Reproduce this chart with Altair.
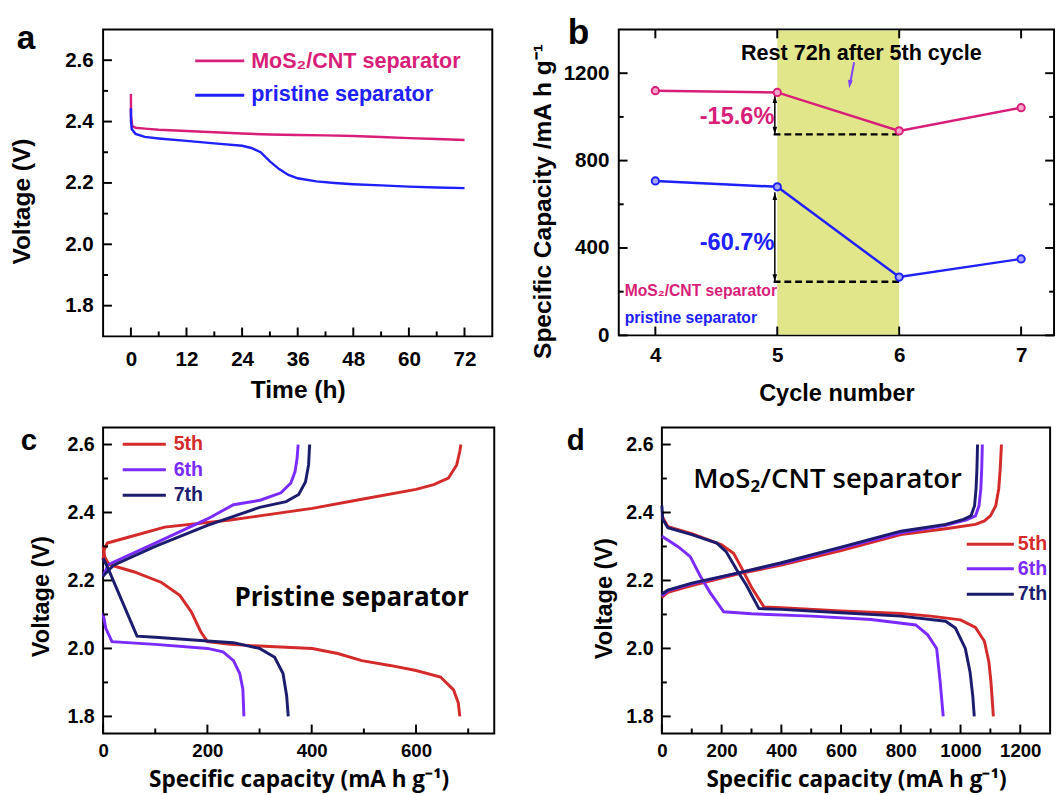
import altair as alt
import pandas as pd

# ---------------- (a) voltage during the 72 h rest ----------------
a_time_mos2 = [0, 0.02, 0.3, 1, 3, 6, 12, 18, 24, 30, 36, 42, 48, 54, 60, 66, 72]
a_volt_mos2 = [2.49, 2.42, 2.385, 2.38, 2.377, 2.373, 2.369, 2.365, 2.361, 2.358, 2.356,
               2.355, 2.353, 2.35, 2.346, 2.343, 2.34]
a_time_pristine = [0, 0.02, 0.2, 1, 3, 6, 12, 18, 24, 26, 28, 30, 32, 34, 36, 40, 44, 48,
                   54, 60, 66, 72]
a_volt_pristine = [2.443, 2.40, 2.375, 2.36, 2.35, 2.345, 2.337, 2.329, 2.321, 2.314, 2.300,
                   2.27, 2.245, 2.226, 2.215, 2.205, 2.2, 2.196, 2.192, 2.188, 2.185, 2.183]
a_xticks = [0, 12, 24, 36, 48, 60, 72]
a_xminor = [6, 18, 30, 42, 54, 66]
v_ticks = [1.8, 2.0, 2.2, 2.4, 2.6]
v_minor = [1.9, 2.1, 2.3, 2.5]
sep_names = ["MoS₂/CNT separator", "pristine separator"]

# ---------------- (b) capacity vs cycle ----------------
b_cycle = [4, 5, 6, 7]
b_cap_mos2 = [1120, 1112, 936, 1042]
b_cap_pristine = [707, 680, 267, 350]
b_rest = [5, 6]
b_drop_top = [1099, 655]
b_drop_bottom = [920, 245]
b_drop_text = ["-15.6%", "-60.7%"]
b_xticks = [4, 5, 6, 7]
b_yticks = [0, 400, 800, 1200]
b_yminor = [200, 600, 1000]

# ---------------- (c) pristine separator profiles ----------------
c5_dis_cap = [0, 3, 11, 60, 112, 147, 169, 187, 200, 244, 300, 401, 450, 496, 550, 600, 647, 672, 681, 684]
c5_dis_v = [2.30, 2.27, 2.247, 2.225, 2.194, 2.156, 2.108, 2.05, 2.02, 2.012, 2.007, 2.0, 1.985,
            1.964, 1.95, 1.935, 1.916, 1.878, 1.84, 1.80]
c5_chg_cap = [0, 2, 8, 50, 118, 244, 300, 401, 496, 600, 634, 662, 678, 684, 686]
c5_chg_v = [2.26, 2.29, 2.31, 2.328, 2.357, 2.378, 2.39, 2.412, 2.439, 2.468, 2.482, 2.501,
            2.54, 2.58, 2.60]
c6_dis_cap = [0, 5, 17, 100, 200, 230, 250, 262, 268, 270]
c6_dis_v = [2.103, 2.06, 2.02, 2.012, 2.0, 1.99, 1.964, 1.926, 1.88, 1.80]
c6_chg_cap = [0, 10, 100, 200, 250, 301, 341, 360, 368, 372, 374]
c6_chg_v = [2.213, 2.247, 2.31, 2.381, 2.423, 2.436, 2.458, 2.487, 2.52, 2.56, 2.60]
c7_dis_cap = [0, 10, 30, 65, 100, 200, 250, 300, 329, 345, 352, 355]
c7_dis_v = [2.266, 2.234, 2.162, 2.036, 2.033, 2.022, 2.017, 2.0, 1.974, 1.926, 1.86, 1.80]
c7_chg_cap = [0, 20, 100, 200, 300, 351, 375, 388, 394, 396]
c7_chg_v = [2.213, 2.245, 2.30, 2.362, 2.415, 2.432, 2.453, 2.49, 2.54, 2.60]
c_xticks = [0, 200, 400, 600]
c_xminor = [100, 300, 500, 700]

# ---------------- (d) MoS2/CNT separator profiles ----------------
d5_dis_cap = [0, 20, 100, 200, 240, 265, 300, 342, 400, 600, 800, 900, 1000, 1050, 1080, 1095, 1102, 1110]
d5_dis_v = [2.39, 2.358, 2.338, 2.305, 2.28, 2.24, 2.18, 2.122, 2.12, 2.11, 2.103, 2.095, 2.084,
            2.062, 2.021, 1.96, 1.9, 1.80]
d6_dis_cap = [0, 53, 95, 128, 161, 207, 300, 500, 700, 850, 890, 920, 932, 942]
d6_dis_v = [2.33, 2.30, 2.27, 2.214, 2.165, 2.108, 2.102, 2.095, 2.085, 2.069, 2.04, 2.0, 1.9, 1.80]
d7_dis_cap = [0, 3, 20, 100, 184, 215, 250, 283, 325, 400, 600, 800, 950, 983, 1016, 1032, 1041, 1046]
d7_dis_v = [2.42, 2.38, 2.355, 2.335, 2.31, 2.285, 2.232, 2.186, 2.117, 2.115, 2.105, 2.095,
            2.08, 2.06, 2.0, 1.93, 1.86, 1.80]
d5_chg_cap = [0, 20, 100, 260, 400, 600, 800, 950, 1050, 1080, 1100, 1118, 1128, 1133, 1137]
d5_chg_v = [2.15, 2.165, 2.185, 2.22, 2.245, 2.288, 2.335, 2.352, 2.365, 2.375, 2.39, 2.42,
            2.47, 2.53, 2.60]
d6_chg_cap = [0, 20, 100, 260, 400, 600, 800, 950, 1020, 1050, 1062, 1068, 1071, 1073]
d6_chg_v = [2.155, 2.17, 2.19, 2.223, 2.25, 2.295, 2.34, 2.362, 2.378, 2.39, 2.42, 2.47, 2.53, 2.60]
d7_chg_cap = [0, 20, 100, 260, 400, 600, 800, 950, 1010, 1035, 1047, 1052, 1055, 1057]
d7_chg_v = [2.16, 2.172, 2.192, 2.223, 2.252, 2.298, 2.345, 2.365, 2.38, 2.39, 2.42, 2.47, 2.53, 2.60]
d_xticks = [0, 200, 400, 600, 800, 1000, 1200]
d_xminor = [100, 300, 500, 700, 900, 1100]
cycle_names = ["5th", "6th", "7th"]

# ---------------- styling ----------------
SANS = "Liberation Sans"
OPEN = "Open Sans"
PINK = "#D81E78"
BLUE = "#2020FF"
RED = "#D42A2A"
VIOLET = "#7B2BFF"
NAVY = "#1C1C6E"
YELLOW = "#E2E68A"


def lines_df(xs, ys, kind):
    return pd.DataFrame({"x": xs, "y": ys, "k": kind, "i": list(range(len(xs)))})


def axis(values, title, lsize, lpad, tfont, tsize, tpad, fmt, **kw):
    return alt.Axis(values=values, title=title, ticks=False, domain=False, grid=False,
                    labelFont=SANS, labelFontSize=lsize, labelFontWeight="bold",
                    labelColor="black", labelPadding=lpad, labelFlush=False,
                    labelOverlap=False, format=fmt,
                    titleFont=tfont, titleFontSize=tsize, titleFontWeight="bold",
                    titleColor="black", titlePadding=tpad, **kw)


def ticks(values, orient, length, xs, ys, W, H):
    m = alt.Chart(pd.DataFrame({"v": values})).mark_rule(color="black", strokeWidth=2)
    if orient in ("bottom", "top"):
        y0, y1 = (H, H - length) if orient == "bottom" else (0, length)
        return m.encode(x=alt.X("v:Q", scale=xs), y=alt.value(y0), y2=alt.value(y1))
    x0, x1 = (0, length) if orient == "left" else (W, W - length)
    return m.encode(y=alt.Y("v:Q", scale=ys), x=alt.value(x0), x2=alt.value(x1))


def label(text, x, y, size, color="black", font=SANS, weight="bold", baseline="alphabetic",
          opacity=1.0):
    return alt.Chart(pd.DataFrame({"t": [text]})).mark_text(
        align="left", baseline=baseline, font=font, fontSize=size, fontWeight=weight,
        color=color, opacity=opacity).encode(x=alt.value(x), y=alt.value(y), text="t:N")


def key_line(x0, x1, y, color, width=3):
    return alt.Chart(pd.DataFrame({"t": [0]})).mark_rule(color=color, strokeWidth=width).encode(
        x=alt.value(x0), x2=alt.value(x1), y=alt.value(y))


def guide(x, y):
    return alt.Chart(pd.DataFrame({"t": [0]})).mark_rule(strokeOpacity=0, strokeWidth=1).encode(
        x=alt.value(x), x2=alt.value(x), y=alt.value(y), y2=alt.value(y + 1))


def curve(dx, dy, cx, cy, color, xs, ys, xaxis=None, yaxis=None):
    df = pd.concat([lines_df(dx, dy, "dis"), lines_df(cx, cy, "chg")], ignore_index=True)
    xe = alt.X("x:Q", scale=xs, axis=xaxis) if xaxis is not None else alt.X("x:Q", scale=xs)
    ye = alt.Y("y:Q", scale=ys, axis=yaxis) if yaxis is not None else alt.Y("y:Q", scale=ys)
    return alt.Chart(df).mark_line(color=color, strokeWidth=3).encode(
        x=xe, y=ye, detail="k:N", order="i:Q")


# ================= panel a =================
WA, HA = 397, 313
xa = alt.Scale(domain=[-6, 78], nice=False, zero=False)
ya = alt.Scale(domain=[1.7, 2.7], nice=False, zero=False)
a_line1 = alt.Chart(lines_df(a_time_mos2, a_volt_mos2, "m")).mark_line(
    color=PINK, strokeWidth=2.5).encode(
    x=alt.X("x:Q", scale=xa, axis=axis(a_xticks, "Time (h)", 21, 13, SANS, 25, 8, "d")),
    y=alt.Y("y:Q", scale=ya, axis=axis(v_ticks, "Voltage (V)", 21, 10, SANS, 25, 31, ".1f",
                                         titleY=175)),
    order="i:Q")
a_line2 = alt.Chart(lines_df(a_time_pristine, a_volt_pristine, "p")).mark_line(
    color=BLUE, strokeWidth=2.5).encode(
    x=alt.X("x:Q", scale=xa), y=alt.Y("y:Q", scale=ya), order="i:Q")
panel_a = alt.layer(
    a_line1, a_line2,
    ticks(a_xticks, "bottom", 9, xa, ya, WA, HA), ticks(a_xminor, "bottom", 5, xa, ya, WA, HA),
    ticks(v_ticks, "left", 9, xa, ya, WA, HA), ticks(v_minor, "left", 5, xa, ya, WA, HA),
    key_line(94, 144, 32, PINK), key_line(94, 144, 67, BLUE),
    label(sep_names[0], 151, 32, 22, PINK, baseline="middle"),
    label(sep_names[1], 151, 66, 22, BLUE, baseline="middle"),
    label("a", -88, 20, 34),
    guide(-96, 10),
).properties(width=WA, height=HA)

# ================= panel b =================
WB, HB = 444, 312
xb = alt.Scale(domain=[3.7, 7.27], nice=False, zero=False)
yb = alt.Scale(domain=[0, 1400], nice=False, zero=False)
b_band = alt.Chart(pd.DataFrame({"x": [b_rest[0]], "x2": [b_rest[1]]})).mark_rect(
    color=YELLOW).encode(
    x=alt.X("x:Q", scale=xb, axis=axis(b_xticks, "Cycle number", 21, 10, SANS, 24, 16, "d")),
    x2="x2:Q",
    y=alt.value(1), y2=alt.value(HB - 1))
b_yaxis = axis(b_yticks, "Specific Capacity /mA h g⁻¹", 21, 10, SANS, 25, 8, "d", titleY=175)
b_drop = pd.DataFrame({"top": b_drop_top, "bot": b_drop_bottom})
b_dash = alt.Chart(b_drop).mark_rule(color="black", strokeWidth=2.5, strokeDash=[7, 4]).encode(
    x=alt.datum(4.97), x2=alt.datum(6.0), y=alt.Y("bot:Q", scale=yb, axis=b_yaxis))
b_arrow = alt.Chart(b_drop).mark_rule(color="black", strokeWidth=1.5).encode(
    x=alt.datum(4.98), y=alt.Y("top:Q", scale=yb), y2="bot:Q")
UP = "M0,-1L-0.6,1L0.6,1Z"
DOWN = "M0,1L-0.6,-1L0.6,-1Z"
b_head_up = alt.Chart(b_drop).mark_point(shape=UP, filled=True, size=60, color="black",
                                          opacity=1, yOffset=4).encode(
    x=alt.datum(4.98), y=alt.Y("top:Q", scale=yb))
b_head_dn = alt.Chart(b_drop).mark_point(shape=DOWN, filled=True, size=60, color="black",
                                          opacity=1, yOffset=-4).encode(
    x=alt.datum(4.98), y=alt.Y("bot:Q", scale=yb))


def b_series(vals, color, fill):
    df = pd.DataFrame({"x": b_cycle, "y": vals})
    ln = alt.Chart(df).mark_line(color=color, strokeWidth=2.5).encode(
        x=alt.X("x:Q", scale=xb), y=alt.Y("y:Q", scale=yb))
    pt = alt.Chart(df).mark_point(shape="circle", filled=True, fill=fill, stroke=color,
                                  strokeWidth=2, size=55, opacity=1).encode(
        x=alt.X("x:Q", scale=xb), y=alt.Y("y:Q", scale=yb))
    return ln, pt


b_l1, b_p1 = b_series(b_cap_mos2, PINK, "#F3A6CC")
b_l2, b_p2 = b_series(b_cap_pristine, BLUE, "#A8A8FF")


def b_note(text, x, y, size, color):
    return alt.Chart(pd.DataFrame({"t": [text]})).mark_text(
        font=SANS, fontSize=size, fontWeight="bold", color=color, align="center",
        baseline="middle").encode(x=alt.datum(x), y=alt.datum(y), text="t:N")


b_purple_tail = alt.Chart(pd.DataFrame({"t": [0]})).mark_rule(color="#7F3FFF", strokeWidth=2).encode(
    x=alt.datum(5.63), x2=alt.datum(5.60), y=alt.datum(1250), y2=alt.datum(1160))
b_purple_head = alt.Chart(pd.DataFrame({"t": [0]})).mark_point(
    shape=DOWN, filled=True, size=70, color="#7F3FFF", opacity=1, angle=8).encode(
    x=alt.datum(5.595), y=alt.datum(1150))

panel_b = alt.layer(
    b_band, b_dash, b_arrow, b_head_up, b_head_dn, b_l1, b_l2, b_p1, b_p2,
    b_note(b_drop_text[0], 4.67, 1000, 24, PINK), b_note(b_drop_text[1], 4.67, 423, 24, BLUE),
    b_note("Rest 72h after 5th cycle", 5.69, 1293, 22, "black"),
    b_purple_tail, b_purple_head,
    ticks(b_xticks, "bottom", 9, xb, yb, WB, HB), ticks(b_xticks, "top", 9, xb, yb, WB, HB),
    ticks(b_yticks, "left", 9, xb, yb, WB, HB), ticks(b_yminor, "left", 5, xb, yb, WB, HB),
    ticks(b_yticks, "right", 9, xb, yb, WB, HB), ticks(b_yminor, "right", 5, xb, yb, WB, HB),
    label(sep_names[0], 6, 267, 16, PINK, baseline="middle"),
    label(sep_names[1], 6, 294, 16, BLUE, baseline="middle"),
    label("b", -52, 15, 36),
).properties(width=WB, height=HB)

# ================= panel c =================
WC, HC = 399, 312
xc = alt.Scale(domain=[0, 750], nice=False, zero=False)
yc = alt.Scale(domain=[1.75, 2.65], nice=False, zero=False)
c_xaxis = axis(c_xticks, "Specific capacity (mA h g⁻¹)", 19, 9, OPEN, 23, 8, "d")
c_yaxis = axis(v_ticks, "Voltage (V)", 20, 9, SANS, 24, 14, ".1f", titleY=172)
panel_c = alt.layer(
    curve(c5_dis_cap, c5_dis_v, c5_chg_cap, c5_chg_v, RED, xc, yc, c_xaxis, c_yaxis),
    curve(c6_dis_cap, c6_dis_v, c6_chg_cap, c6_chg_v, VIOLET, xc, yc),
    curve(c7_dis_cap, c7_dis_v, c7_chg_cap, c7_chg_v, NAVY, xc, yc),
    ticks(c_xticks, "bottom", 9, xc, yc, WC, HC), ticks(c_xminor, "bottom", 5, xc, yc, WC, HC),
    ticks(v_ticks, "left", 9, xc, yc, WC, HC), ticks(v_minor, "left", 5, xc, yc, WC, HC),
    key_line(20, 64, 17, RED), key_line(20, 64, 43, VIOLET), key_line(20, 64, 69, NAVY),
    label(cycle_names[0], 72, 17, 20, RED, baseline="middle"),
    label(cycle_names[1], 72, 43, 20, VIOLET, baseline="middle"),
    label(cycle_names[2], 72, 69, 20, NAVY, baseline="middle"),
    label("Pristine separator", 134, 174, 26.5, "black", font=OPEN, baseline="middle"),
    label("c", -84, 23, 30),
    guide(-96, 100),
).properties(width=WC, height=HC)

# ================= panel d =================
WD, HD = 396, 312
xd = alt.Scale(domain=[0, 1300], nice=False, zero=False)
yd = alt.Scale(domain=[1.75, 2.65], nice=False, zero=False)
d_xaxis = axis(d_xticks, "Specific capacity (mA h g⁻¹)", 19, 9, OPEN, 23, 8, "d")
d_yaxis = axis(v_ticks, "Voltage (V)", 20, 9, SANS, 24, 10, ".1f", titleY=174)
panel_d = alt.layer(
    curve(d5_dis_cap, d5_dis_v, d5_chg_cap, d5_chg_v, RED, xd, yd, d_xaxis, d_yaxis),
    curve(d6_dis_cap, d6_dis_v, d6_chg_cap, d6_chg_v, VIOLET, xd, yd),
    curve(d7_dis_cap, d7_dis_v, d7_chg_cap, d7_chg_v, NAVY, xd, yd),
    ticks(d_xticks, "bottom", 9, xd, yd, WD, HD), ticks(d_xminor, "bottom", 5, xd, yd, WD, HD),
    ticks(v_ticks, "left", 9, xd, yd, WD, HD), ticks(v_minor, "left", 5, xd, yd, WD, HD),
    key_line(311, 359, 119, RED), key_line(311, 359, 144, VIOLET), key_line(311, 359, 170, NAVY),
    label(cycle_names[0], 363, 119, 20, RED, baseline="middle"),
    label(cycle_names[1], 363, 144, 20, VIOLET, baseline="middle"),
    label(cycle_names[2], 363, 170, 20, NAVY, baseline="middle"),
    label("MoS₂/CNT separator", 32, 54, 28, "black", font=OPEN, weight=600, baseline="middle"),
    label("d", -97, 23, 30),
).properties(width=WD, height=HD)

top = alt.hconcat(panel_a, panel_b, spacing=129, bounds="flush")
bottom = alt.hconcat(panel_c, panel_d, spacing=171, bounds="flush")
chart = alt.vconcat(top, bottom, spacing=20).properties(
    padding={"left": 0, "top": -1, "right": 0, "bottom": 0}, background="white"
).configure_view(stroke="black", strokeWidth=2)

chart.save("out.html", embed_options={"renderer": "svg", "actions": False})
